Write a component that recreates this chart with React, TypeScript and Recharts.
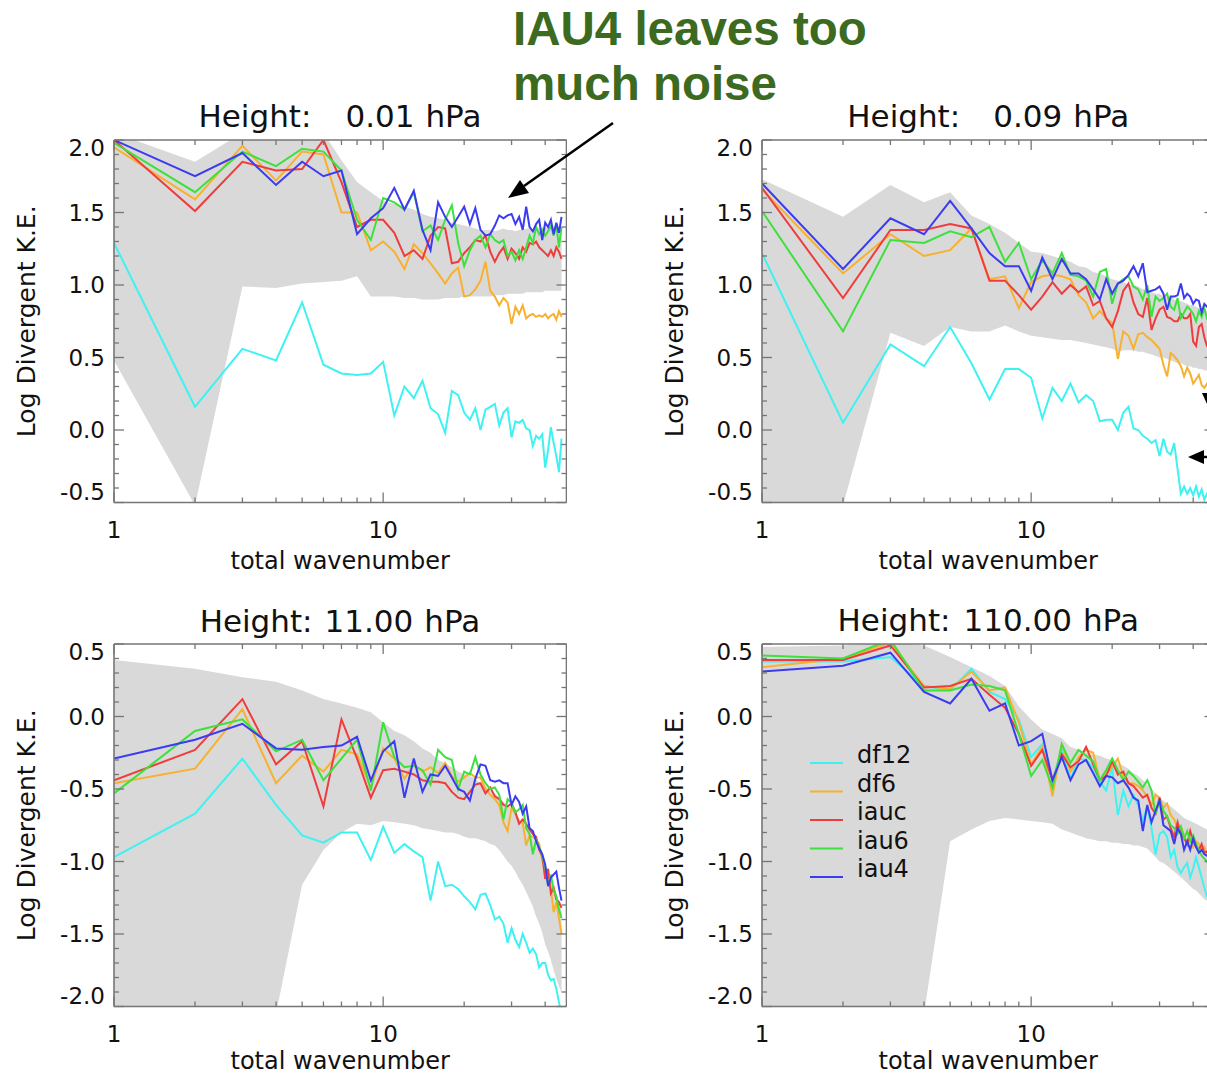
import React from "react";
import { Area, ComposedChart, Legend, Line, XAxis, YAxis } from "recharts";

const wavenumbers = [
  1, 2, 3, 4, 5, 6, 7, 8, 9, 10, 11, 12, 13, 14, 15, 16, 17, 18, 19, 20, 21, 22, 23,
  24, 25, 26, 27, 28, 29, 30, 31, 32, 33, 34, 35, 36, 37, 38, 39, 40, 41, 42, 43, 44, 45, 46,
];

// 0.01 hPa
const h001Df12 = [1.29, 0.16, 0.56, 0.48, 0.88, 0.45, 0.39, 0.38, 0.39, 0.47, 0.10, 0.30, 0.22, 0.34, 0.15, 0.11, -0.02, 0.27, 0.24, 0.12, 0.07, 0.15, 0.00, 0.14, 0.16, 0.18, 0.03, 0.12, 0.15, -0.05, 0.06, 0.05, 0.07, 0.01, 0.00, -0.11, -0.04, -0.06, -0.03, -0.26, -0.14, 0.02, -0.09, -0.18, -0.29, -0.06];
const h001Df6 = [1.95, 1.59, 1.96, 1.72, 1.92, 1.90, 1.50, 1.50, 1.24, 1.30, 1.23, 1.11, 1.28, 1.22, 1.15, 1.08, 1.01, 1.08, 1.12, 0.92, 0.93, 0.97, 1.03, 1.16, 0.96, 0.92, 0.86, 0.91, 0.88, 0.73, 0.85, 0.80, 0.86, 0.77, 0.79, 0.80, 0.78, 0.79, 0.78, 0.80, 0.77, 0.79, 0.80, 0.76, 0.82, 0.78];
const h001Iauc = [2.00, 1.51, 1.85, 1.79, 1.80, 2.00, 1.71, 1.40, 1.45, 1.45, 1.36, 1.20, 1.24, 1.18, 1.34, 1.40, 1.39, 1.15, 1.16, 1.22, 1.26, 1.31, 1.30, 1.34, 1.23, 1.16, 1.22, 1.26, 1.18, 1.25, 1.22, 1.18, 1.26, 1.23, 1.29, 1.28, 1.30, 1.26, 1.24, 1.22, 1.20, 1.24, 1.20, 1.26, 1.23, 1.18];
const h001Iau6 = [1.98, 1.64, 1.92, 1.82, 1.94, 1.92, 1.79, 1.45, 1.31, 1.60, 1.57, 1.52, 1.64, 1.37, 1.41, 1.31, 1.45, 1.55, 1.29, 1.13, 1.24, 1.31, 1.34, 1.26, 1.35, 1.31, 1.29, 1.31, 1.20, 1.23, 1.17, 1.24, 1.18, 1.26, 1.34, 1.29, 1.40, 1.35, 1.38, 1.34, 1.37, 1.41, 1.34, 1.42, 1.26, 1.40];
const h001Iau4 = [2.00, 1.75, 1.91, 1.69, 1.85, 1.75, 1.79, 1.35, 1.46, 1.53, 1.67, 1.52, 1.65, 1.38, 1.24, 1.57, 1.47, 1.40, 1.47, 1.54, 1.42, 1.53, 1.38, 1.34, 1.35, 1.41, 1.48, 1.46, 1.48, 1.49, 1.42, 1.47, 1.38, 1.54, 1.40, 1.37, 1.42, 1.45, 1.31, 1.43, 1.40, 1.45, 1.35, 1.43, 1.36, 1.47];
const h001Lo = [0.48, -0.52, 0.99, 0.98, 1.01, 1.02, 1.03, 1.06, 0.92, 0.92, 0.92, 0.91, 0.91, 0.90, 0.90, 0.90, 0.91, 0.91, 0.91, 0.92, 0.92, 0.92, 0.92, 0.92, 0.92, 0.93, 0.93, 0.93, 0.94, 0.94, 0.94, 0.94, 0.94, 0.95, 0.95, 0.95, 0.95, 0.95, 0.95, 0.96, 0.96, 0.96, 0.96, 0.96, 0.96, 0.96];
const h001Hi = [2.05, 1.85, 2.05, 2.05, 2.05, 2.05, 1.86, 1.71, 1.64, 1.58, 1.56, 1.54, 1.52, 1.49, 1.47, 1.46, 1.45, 1.43, 1.42, 1.41, 1.40, 1.39, 1.38, 1.38, 1.38, 1.37, 1.38, 1.39, 1.38, 1.38, 1.37, 1.38, 1.38, 1.39, 1.39, 1.38, 1.40, 1.39, 1.40, 1.40, 1.39, 1.40, 1.40, 1.39, 1.40, 1.40];

// 0.09 hPa
const h009Df12 = [1.22, 0.05, 0.59, 0.44, 0.71, 0.46, 0.21, 0.42, 0.42, 0.36, 0.08, 0.29, 0.20, 0.32, 0.19, 0.24, 0.20, 0.06, 0.07, 0.07, 0.00, 0.12, 0.16, 0.01, 0.00, -0.04, -0.06, -0.09, -0.07, -0.18, -0.06, -0.15, -0.17, -0.09, -0.27, -0.44, -0.39, -0.44, -0.40, -0.45, -0.39, -0.46, -0.41, -0.48, -0.44, -0.47];
const h009Df6 = [1.66, 1.08, 1.35, 1.20, 1.24, 1.39, 1.04, 1.06, 0.84, 1.02, 1.06, 1.07, 1.06, 1.04, 0.93, 0.88, 0.77, 0.82, 0.77, 0.74, 0.49, 0.68, 0.65, 0.56, 0.66, 0.67, 0.64, 0.62, 0.59, 0.56, 0.45, 0.37, 0.53, 0.51, 0.48, 0.44, 0.37, 0.43, 0.39, 0.32, 0.35, 0.38, 0.31, 0.29, 0.32, 0.29];
const h009Iauc = [1.67, 0.91, 1.38, 1.38, 1.42, 1.39, 1.03, 1.03, 0.93, 0.83, 0.92, 1.02, 0.94, 1.00, 0.95, 0.99, 0.86, 0.89, 0.77, 0.71, 0.82, 0.96, 1.01, 0.88, 0.80, 0.78, 0.91, 0.69, 0.77, 0.83, 0.85, 0.78, 0.77, 0.75, 0.75, 0.80, 0.77, 0.77, 0.80, 0.61, 0.58, 0.71, 0.73, 0.64, 0.58, 0.56];
const h009Iau6 = [1.51, 0.68, 1.31, 1.29, 1.37, 1.33, 1.40, 1.16, 1.29, 1.04, 1.17, 1.08, 1.22, 1.07, 1.06, 1.03, 0.92, 1.09, 1.11, 0.87, 1.01, 1.04, 1.06, 0.99, 0.97, 0.90, 1.00, 0.78, 0.92, 0.89, 0.91, 0.94, 0.85, 0.83, 0.91, 0.77, 0.81, 0.85, 0.83, 0.80, 0.75, 0.82, 0.78, 0.84, 0.77, 0.79];
const h009Iau4 = [1.70, 1.11, 1.46, 1.35, 1.58, 1.39, 1.22, 1.13, 1.13, 0.96, 1.19, 1.04, 1.18, 1.08, 1.08, 1.04, 0.97, 0.90, 1.04, 0.94, 1.01, 1.03, 1.07, 1.13, 1.06, 1.15, 0.95, 0.96, 0.97, 0.99, 0.94, 0.83, 0.92, 0.92, 0.93, 1.01, 0.91, 0.94, 0.92, 0.87, 0.90, 0.89, 0.81, 0.87, 0.85, 0.84];
const h009Lo = [-0.69, -0.52, 0.67, 0.58, 0.71, 0.68, 0.68, 0.72, 0.68, 0.65, 0.64, 0.63, 0.62, 0.62, 0.61, 0.60, 0.59, 0.58, 0.57, 0.56, 0.54, 0.55, 0.55, 0.55, 0.54, 0.54, 0.53, 0.52, 0.51, 0.50, 0.50, 0.49, 0.48, 0.47, 0.46, 0.46, 0.45, 0.44, 0.44, 0.43, 0.43, 0.42, 0.42, 0.41, 0.41, 0.40];
const h009Hi = [1.73, 1.47, 1.69, 1.57, 1.64, 1.48, 1.42, 1.36, 1.29, 1.23, 1.22, 1.20, 1.18, 1.16, 1.13, 1.12, 1.09, 1.08, 1.06, 1.04, 1.03, 1.02, 1.00, 1.00, 0.99, 0.97, 0.97, 0.95, 0.94, 0.94, 0.92, 0.92, 0.92, 0.90, 0.89, 0.89, 0.88, 0.87, 0.86, 0.86, 0.85, 0.84, 0.83, 0.83, 0.82, 0.82];

// 11.00 hPa
const h11Df12 = [-0.97, -0.67, -0.29, -0.61, -0.82, -0.87, -0.80, -0.80, -0.99, -0.76, -0.94, -0.88, -0.93, -0.97, -1.27, -1.00, -1.17, -1.16, -1.19, -1.24, -1.28, -1.33, -1.23, -1.22, -1.30, -1.40, -1.38, -1.43, -1.56, -1.46, -1.54, -1.59, -1.50, -1.56, -1.63, -1.60, -1.64, -1.73, -1.70, -1.70, -1.78, -1.82, -1.81, -1.88, -1.97, -2.05];
const h11Df6 = [-0.46, -0.36, 0.05, -0.46, -0.27, -0.38, -0.23, -0.26, -0.49, -0.22, -0.29, -0.43, -0.33, -0.38, -0.35, -0.39, -0.32, -0.41, -0.45, -0.42, -0.39, -0.42, -0.42, -0.50, -0.54, -0.57, -0.61, -0.73, -0.79, -0.63, -0.67, -0.73, -0.73, -0.89, -0.82, -0.83, -0.85, -0.88, -0.99, -1.04, -1.12, -1.19, -1.35, -1.28, -1.39, -1.50];
const h11Iauc = [-0.44, -0.23, 0.12, -0.33, -0.17, -0.62, -0.02, -0.29, -0.56, -0.37, -0.36, -0.38, -0.40, -0.44, -0.45, -0.45, -0.46, -0.52, -0.56, -0.57, -0.52, -0.47, -0.46, -0.53, -0.49, -0.55, -0.57, -0.61, -0.62, -0.60, -0.66, -0.74, -0.71, -0.74, -0.78, -0.81, -0.83, -0.92, -0.96, -1.12, -1.05, -1.22, -1.18, -1.26, -1.28, -1.32];
const h11Iau6 = [-0.53, -0.10, -0.02, -0.24, -0.16, -0.44, -0.29, -0.16, -0.51, -0.04, -0.28, -0.35, -0.34, -0.37, -0.47, -0.23, -0.28, -0.30, -0.50, -0.38, -0.40, -0.28, -0.40, -0.46, -0.50, -0.49, -0.54, -0.71, -0.57, -0.60, -0.66, -0.64, -0.61, -0.77, -0.81, -0.95, -0.85, -0.90, -0.96, -1.04, -1.16, -1.09, -1.20, -1.24, -1.33, -1.39];
const h11Iau4 = [-0.29, -0.16, -0.05, -0.22, -0.23, -0.21, -0.20, -0.14, -0.44, -0.24, -0.17, -0.56, -0.29, -0.52, -0.40, -0.41, -0.34, -0.42, -0.50, -0.52, -0.58, -0.43, -0.33, -0.34, -0.44, -0.45, -0.44, -0.46, -0.46, -0.61, -0.55, -0.59, -0.67, -0.62, -0.77, -0.79, -0.86, -0.91, -0.95, -1.02, -1.17, -1.11, -1.09, -1.07, -1.18, -1.27];
const h11Lo = [-2.50, -2.50, -2.50, -2.05, -1.16, -0.92, -0.80, -0.74, -0.75, -0.72, -0.73, -0.74, -0.75, -0.77, -0.78, -0.79, -0.80, -0.80, -0.81, -0.83, -0.84, -0.84, -0.85, -0.86, -0.88, -0.89, -0.92, -0.96, -1.00, -1.03, -1.07, -1.12, -1.16, -1.21, -1.26, -1.31, -1.38, -1.43, -1.49, -1.57, -1.62, -1.68, -1.75, -1.81, -1.86, -1.91];
const h11Hi = [0.39, 0.33, 0.27, 0.24, 0.18, 0.12, 0.09, 0.06, 0.03, -0.04, -0.10, -0.13, -0.17, -0.22, -0.25, -0.30, -0.32, -0.35, -0.38, -0.40, -0.41, -0.43, -0.46, -0.48, -0.51, -0.53, -0.56, -0.59, -0.61, -0.64, -0.67, -0.70, -0.74, -0.77, -0.81, -0.84, -0.88, -0.93, -0.98, -1.02, -1.07, -1.11, -1.17, -1.22, -1.28, -1.34];

// 110.00 hPa
const h110Df12 = [0.38, 0.38, 0.41, 0.21, 0.18, 0.33, 0.17, 0.12, -0.02, -0.28, -0.19, -0.44, -0.23, -0.43, -0.29, -0.30, -0.35, -0.45, -0.51, -0.35, -0.68, -0.51, -0.62, -0.54, -0.61, -0.72, -0.62, -0.77, -0.95, -0.81, -0.79, -0.83, -0.97, -0.92, -1.04, -1.08, -1.04, -1.01, -1.11, -1.05, -0.97, -1.04, -1.11, -1.18, -1.24, -1.26];
const h110Df6 = [0.34, 0.40, 0.51, 0.21, 0.19, 0.31, 0.18, 0.20, -0.04, -0.33, -0.21, -0.55, -0.19, -0.38, -0.28, -0.23, -0.25, -0.44, -0.40, -0.35, -0.29, -0.41, -0.46, -0.46, -0.48, -0.51, -0.55, -0.61, -0.54, -0.56, -0.63, -0.60, -0.68, -0.71, -0.77, -0.76, -0.82, -0.88, -0.84, -0.90, -0.86, -0.88, -0.92, -0.90, -0.95, -0.98];
const h110Iauc = [0.39, 0.39, 0.49, 0.20, 0.21, 0.26, 0.15, 0.06, -0.12, -0.34, -0.23, -0.44, -0.26, -0.35, -0.31, -0.21, -0.33, -0.44, -0.41, -0.31, -0.40, -0.38, -0.46, -0.48, -0.52, -0.56, -0.54, -0.63, -0.67, -0.56, -0.71, -0.69, -0.77, -0.83, -0.73, -0.81, -0.84, -0.88, -0.79, -0.86, -0.90, -0.92, -0.88, -0.94, -0.93, -0.96];
const h110Iau6 = [0.42, 0.40, 0.53, 0.18, 0.18, 0.22, 0.21, 0.18, -0.12, -0.41, -0.30, -0.49, -0.19, -0.32, -0.23, -0.27, -0.31, -0.44, -0.37, -0.29, -0.37, -0.44, -0.38, -0.41, -0.45, -0.49, -0.44, -0.51, -0.67, -0.58, -0.65, -0.69, -0.75, -0.77, -0.81, -0.76, -0.84, -0.79, -0.86, -0.82, -0.88, -0.92, -0.96, -0.98, -1.00, -1.02];
const h110Iau4 = [0.31, 0.35, 0.44, 0.17, 0.09, 0.26, 0.04, 0.09, -0.20, -0.17, -0.12, -0.44, -0.28, -0.44, -0.33, -0.30, -0.39, -0.48, -0.41, -0.42, -0.46, -0.44, -0.49, -0.56, -0.58, -0.79, -0.61, -0.73, -0.65, -0.58, -0.75, -0.77, -0.79, -0.88, -0.77, -0.81, -0.92, -0.86, -0.92, -0.84, -0.90, -0.94, -0.92, -0.95, -0.96, -0.98];
const h110Lo = [-2.50, -2.50, -2.50, -2.05, -0.86, -0.78, -0.72, -0.70, -0.71, -0.72, -0.73, -0.74, -0.78, -0.80, -0.82, -0.84, -0.85, -0.86, -0.86, -0.87, -0.87, -0.88, -0.88, -0.89, -0.89, -0.90, -0.91, -0.94, -0.97, -1.00, -1.01, -1.03, -1.05, -1.07, -1.09, -1.11, -1.13, -1.15, -1.17, -1.19, -1.20, -1.22, -1.24, -1.26, -1.27, -1.29];
const h110Hi = [0.48, 0.49, 0.51, 0.49, 0.41, 0.34, 0.28, 0.21, 0.07, -0.02, -0.09, -0.12, -0.15, -0.21, -0.23, -0.25, -0.26, -0.27, -0.29, -0.30, -0.32, -0.34, -0.36, -0.39, -0.41, -0.44, -0.47, -0.50, -0.53, -0.56, -0.58, -0.60, -0.62, -0.64, -0.66, -0.68, -0.70, -0.71, -0.72, -0.73, -0.74, -0.75, -0.76, -0.77, -0.78, -0.79];

const seriesNames = ["df12", "df6", "iauc", "iau6", "iau4"];
const seriesColors = ["#3ff2f2", "#f7b12f", "#f03c3c", "#3de03d", "#3b3bf2"];

const xTicks = [1, 2, 3, 4, 5, 6, 7, 8, 9, 10, 20, 30, 40];
const xTickLabels = [1, 10];
const upperYTicks = [-0.5, -0.4, -0.3, -0.2, -0.1, 0, 0.1, 0.2, 0.3, 0.4, 0.5, 0.6, 0.7, 0.8, 0.9, 1, 1.1, 1.2, 1.3, 1.4, 1.5, 1.6, 1.7, 1.8, 1.9, 2];
const lowerYTicks = [-2, -1.9, -1.8, -1.7, -1.6, -1.5, -1.4, -1.3, -1.2, -1.1, -1, -0.9, -0.8, -0.7, -0.6, -0.5, -0.4, -0.3, -0.2, -0.1, 0, 0.1, 0.2, 0.3, 0.4, 0.5];

const INK = "#111";
const AXIS = "#767676";
const BAND = "#d9d9d9";
const FONT = '"DejaVu Sans", Verdana, sans-serif';
const NOTE_GREEN = "#3c6a1f";

const PLOT_W = 452.5;
const PLOT_H = 362.5;
const Y_AXIS_W = 176;
const X_AXIS_H = 80;
const TOP_GAP = 50;

// labelDrop: distance from the plot's bottom edge to the x-title baseline
const panels = [
  { id: "p001", level: "0.01", gap: 34, left: 113.7, top: 140, labelDrop: 66, domain: [-0.5, 2], yTicks: upperYTicks, lines: [h001Df12, h001Df6, h001Iauc, h001Iau6, h001Iau4], lo: h001Lo, hi: h001Hi, legend: false },
  { id: "p009", level: "0.09", gap: 33, left: 762, top: 140, labelDrop: 66, domain: [-0.5, 2], yTicks: upperYTicks, lines: [h009Df12, h009Df6, h009Iauc, h009Iau6, h009Iau4], lo: h009Lo, hi: h009Hi, legend: false },
  { id: "p11", level: "11.00", gap: 12, left: 113.7, top: 643.5, labelDrop: 62, domain: [-2, 0.5], yTicks: lowerYTicks, lines: [h11Df12, h11Df6, h11Iauc, h11Iau6, h11Iau4], lo: h11Lo, hi: h11Hi, legend: false },
  { id: "p110", level: "110.00", gap: 13, left: 762, top: 643.5, labelDrop: 62, domain: [-2, 0.5], yTicks: lowerYTicks, lines: [h110Df12, h110Df6, h110Iauc, h110Iau6, h110Iau4], lo: h110Lo, hi: h110Hi, legend: true },
];

const isHalfStep = (v: number) => Math.abs(v * 2 - Math.round(v * 2)) < 1e-6;

const bottomTick = ({ x, y, payload }: any) => {
  const major = xTickLabels.includes(payload.value);
  return (
    <g>
      <line x1={x} y1={y} x2={x} y2={y - (major ? 10 : 5)} stroke={AXIS} strokeWidth={1.3} />
      {major && (
        <text x={x} y={y + 35} textAnchor="middle" fontSize={23} fill={INK}>
          {payload.value}
        </text>
      )}
    </g>
  );
};

const topTick = ({ x, y, payload }: any) => {
  const major = xTickLabels.includes(payload.value);
  return <line x1={x} y1={y} x2={x} y2={y + (major ? 10 : 5)} stroke={AXIS} strokeWidth={1.3} />;
};

const leftTick = (domain: number[]) => ({ x, y, payload }: any) => {
  const v = payload.value;
  const major = isHalfStep(v);
  let shift = 0;
  if (Math.abs(v - domain[1]) < 1e-6) shift = 8;
  if (Math.abs(v - domain[0]) < 1e-6) shift = -11;
  return (
    <g>
      <line x1={x} y1={y} x2={x + (major ? 10 : 5)} y2={y} stroke={AXIS} strokeWidth={1.3} />
      {major && (
        <text x={x - 9} y={y + 8.4 + shift} textAnchor="end" fontSize={23} fill={INK}>
          {v.toFixed(1)}
        </text>
      )}
    </g>
  );
};

const rightTick = ({ x, y, payload }: any) => {
  const major = isHalfStep(payload.value);
  return <line x1={x} y1={y} x2={x - (major ? 10 : 5)} y2={y} stroke={AXIS} strokeWidth={1.3} />;
};

const renderLegend = () => (
  <svg width={130} height={150} style={{ display: "block", fontFamily: FONT }}>
    {seriesNames.map((name, k) => (
      <g key={name}>
        <line x1={2} x2={35} y1={24 + 28.5 * k} y2={24 + 28.5 * k} stroke={seriesColors[k]} strokeWidth={2} />
        <text x={49} y={24 + 28.5 * k} fontSize={24} fill={INK}>
          {name}
        </text>
      </g>
    ))}
  </svg>
);

function Panel({ cfg }: { cfg: any }) {
  const data = wavenumbers.map((n, i) => {
    const row: any = { n, band: [cfg.lo[i], cfg.hi[i]] };
    seriesNames.forEach((name, k) => {
      row[name] = cfg.lines[k][i];
    });
    return row;
  });

  const axisLine = { stroke: AXIS, strokeWidth: 1.6 };

  return (
    <div style={{ position: "absolute", left: cfg.left - Y_AXIS_W, top: cfg.top - TOP_GAP }}>
      <ComposedChart
        width={Y_AXIS_W + PLOT_W + 1}
        height={TOP_GAP + PLOT_H + X_AXIS_H}
        data={data}
        margin={{ top: TOP_GAP - 1, right: 0, bottom: 0, left: 0 }}
      >
        <Area
          xAxisId="b"
          yAxisId="l"
          dataKey="band"
          stroke="none"
          fill={BAND}
          fillOpacity={1}
          dot={false}
          activeDot={false}
          legendType="none"
          isAnimationActive={false}
        />
        {seriesNames.map((name, k) => (
          <Line
            key={name}
            xAxisId="b"
            yAxisId="l"
            dataKey={name}
            type="linear"
            stroke={seriesColors[k]}
            strokeWidth={2}
            dot={false}
            activeDot={false}
            isAnimationActive={false}
          />
        ))}
        {/* keeps the top and right frame axes attached to the data */}
        <Line xAxisId="t" yAxisId="r" dataKey="df12" stroke="none" dot={false} activeDot={false} legendType="none" isAnimationActive={false} />
        <XAxis
          xAxisId="b"
          dataKey="n"
          type="number"
          scale="log"
          domain={[1, 48]}
          allowDataOverflow
          ticks={xTicks}
          interval={0}
          tickSize={0}
          tickMargin={0}
          tickLine={false}
          axisLine={axisLine}
          tick={bottomTick}
          height={X_AXIS_H}
          label={{ value: "total wavenumber", position: "insideBottom", offset: X_AXIS_H - cfg.labelDrop, fontSize: 24, fill: INK }}
        />
        <XAxis
          xAxisId="t"
          orientation="top"
          dataKey="n"
          type="number"
          scale="log"
          domain={[1, 48]}
          allowDataOverflow
          ticks={xTicks}
          interval={0}
          tickSize={0}
          tickMargin={0}
          tickLine={false}
          axisLine={axisLine}
          tick={topTick}
          height={1}
        />
        <YAxis
          yAxisId="l"
          type="number"
          domain={cfg.domain}
          allowDataOverflow
          ticks={cfg.yTicks}
          interval={0}
          tickSize={0}
          tickMargin={0}
          tickLine={false}
          axisLine={axisLine}
          tick={leftTick(cfg.domain)}
          width={Y_AXIS_W}
          label={{ value: "Log Divergent K.E.", angle: -90, position: "center", fontSize: 25, fill: INK }}
        />
        <YAxis
          yAxisId="r"
          orientation="right"
          type="number"
          domain={cfg.domain}
          allowDataOverflow
          ticks={cfg.yTicks}
          interval={0}
          tickSize={0}
          tickMargin={0}
          tickLine={false}
          axisLine={axisLine}
          tick={rightTick}
          width={1}
        />
        {cfg.legend && (
          <Legend
            layout="vertical"
            align="center"
            verticalAlign="middle"
            wrapperStyle={{ left: 222, top: 145, width: 130, height: 150 }}
            content={renderLegend}
          />
        )}
      </ComposedChart>
    </div>
  );
}

const titleBaselines = [127, 127, 632, 631];

export default function App() {
  return (
    <div
      style={{
        position: "absolute",
        left: 0,
        top: 0,
        width: 1207,
        height: 1075,
        overflow: "hidden",
        background: "#fff",
        fontFamily: FONT,
      }}
    >
      {panels.map((cfg) => (
        <Panel key={cfg.id} cfg={cfg} />
      ))}
      <svg width={1207} height={1075} style={{ position: "absolute", left: 0, top: 0, pointerEvents: "none" }}>
        {panels.map((cfg, i) => (
          <text key={cfg.id} x={cfg.left + PLOT_W / 2} y={titleBaselines[i]} textAnchor="middle" fontSize={31} fill={INK}>
            <tspan>Height:</tspan>
            <tspan dx={cfg.gap}>{cfg.level}</tspan>
            <tspan dx={11}>hPa</tspan>
          </text>
        ))}
        <g fontFamily='"Liberation Sans", Arial, sans-serif' fontWeight="bold" fontSize={47.5} fill={NOTE_GREEN}>
          <text x={513} y={45}>IAU4 leaves too</text>
          <text x={513} y={100}>much noise</text>
        </g>
        <line x1={613} y1={123} x2={524} y2={186} stroke="#000" strokeWidth={2.5} />
        <polygon points="508,198 529,193 520,180" fill="#000" />
        <line x1={1200} y1={457} x2={1207} y2={457} stroke="#000" strokeWidth={2.5} />
        <polygon points="1188,457 1204,450 1204,464" fill="#000" />
        <polygon points="1202,393 1207,393 1207,404" fill="#000" />
      </svg>
    </div>
  );
}
